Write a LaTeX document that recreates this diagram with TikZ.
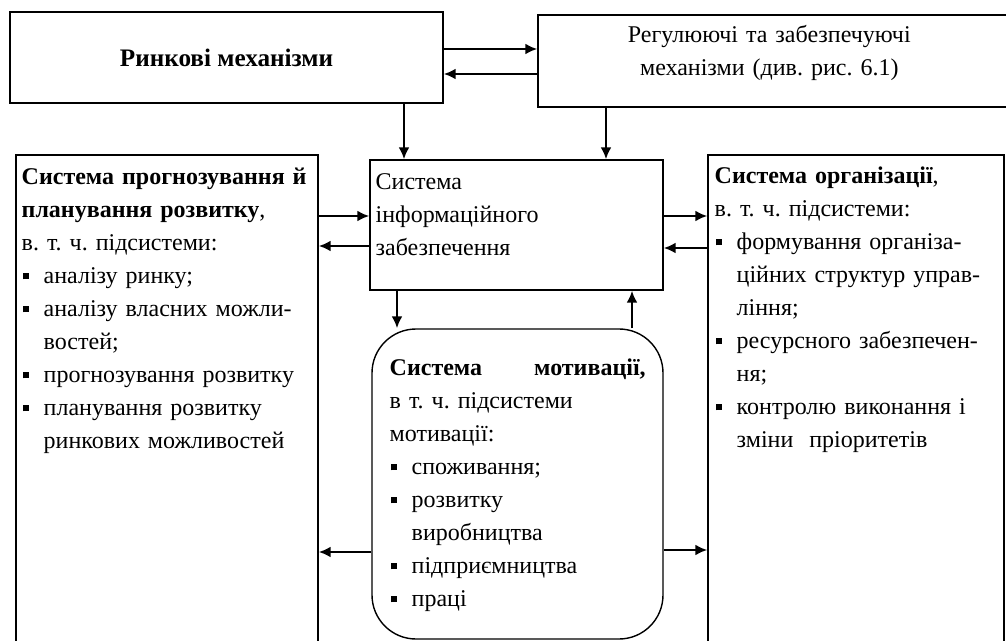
\documentclass[tikz,border=0pt]{standalone}
\usepackage{fontspec}
\setmainfont{Liberation Serif}
\usetikzlibrary{arrows.meta}
\frenchspacing
\newcommand{\bul}{\par\hangindent=11pt\hangafter=1\noindent\makebox[11pt][l]{\hspace{0.5pt}\rule[2pt]{3pt}{3pt}}}

\begin{document}
\begin{tikzpicture}[x=0.5pt,y=-0.5pt,
		box/.style={draw,line width=0.7pt,inner sep=0pt},
		txt/.style={anchor=base west,align=left,inner sep=0pt,
			font=\fontsize{12}{16.5}\selectfont},
		arr/.style={line width=1.3pt,-{Latex[length=6pt,width=5.5pt]}}]
	\useasboundingbox (0,0) rectangle (1006,641);
	\node[box,minimum width=216.5pt,minimum height=45.5pt,
		font=\fontsize{12.6}{16.5}\selectfont\bfseries](market) at (226.5,57.5){Ринкові механізми};
	\node[box,minimum width=237pt,minimum height=46pt](reg) at (775,61){};
	\node[txt,anchor=base,align=center,text width=170pt](regT) at ([xshift=116pt,yshift=-14pt]reg.north west)
		{Регулюючі та забезпечуючі\\ механізми (див. рис. 6.1)};
	\node[box,minimum width=146.5pt,minimum height=65pt](info) at (516.5,225){};
	\node[txt,text width=140pt](infoT) at ([xshift=3pt,yshift=-15pt]info.north west)
		{Система\newline інформаційного\newline забезпечення};
	\node[box,minimum width=151pt,minimum height=252.5pt](plan) at (167,407.5){};
	\node[txt,text width=147pt](planT) at ([xshift=3pt,yshift=-15pt]plan.north west){%
		\textbf{Система прогнозування й}\newline
		\textbf{планування розвитку}, \par
		в. т. ч. підсистеми:
		\bul аналізу ринку;
		\bul аналізу власних можли-\newline востей;
		\bul прогнозування розвитку
		\bul планування розвитку\newline ринкових можливостей\par};
	\node[box,minimum width=148pt,minimum height=252.5pt](org) at (856,407.5){};
	\node[txt,text width=145pt](orgT) at ([xshift=3.5pt,yshift=-14.5pt]org.north west){%
		\textbf{Система організації}, \par
		в. т. ч. підсистеми:
		\bul формування організа-\newline ційних структур управ-\newline ління;
		\bul ресурсного забезпечен-\newline ня;
		\bul контролю виконання і\newline зміни\ \ пріоритетів\par};
	\node[box,rounded corners=22pt,minimum width=145.5pt,minimum height=155pt](motiv) at (517.5,484){};
	\node[txt,text width=128pt](motivT) at ([xshift=9pt,yshift=-23.5pt]motiv.north west){%
		\textbf{Система\hfill мотивації,}\par
		в т. ч. підсистеми\newline мотивації:
		\bul споживання;
		\bul розвитку\newline виробництва
		\bul підприємництва
		\bul праці\par};
	\draw[arr] (market.east |- 0,49) -- (reg.west |- 0,49);
	\draw[arr] (reg.west |- 0,74) -- (market.east |- 0,74);
	\draw[arr] (market.south -| 404,0) -- (info.north -| 404,0);
	\draw[arr] (reg.south -| 606,0) -- (info.north -| 606,0);
	\draw[arr] (plan.east |- 0,216) -- (info.west |- 0,216);
	\draw[arr] (info.west |- 0,246) -- (plan.east |- 0,246);
	\draw[arr] (info.east |- 0,216) -- (org.west |- 0,216);
	\draw[arr] (org.west |- 0,248) -- (info.east |- 0,248);
	\draw[arr] (info.south -| 397,0) -- (motiv.north -| 397,0);
	\draw[arr] (motiv.north -| 632,0) -- (info.south -| 632,0);
	\draw[arr] (motiv.west |- 0,552) -- (plan.east |- 0,552);
	\draw[arr] (motiv.east |- 0,550) -- (org.west |- 0,550);
\end{tikzpicture}
\end{document}
